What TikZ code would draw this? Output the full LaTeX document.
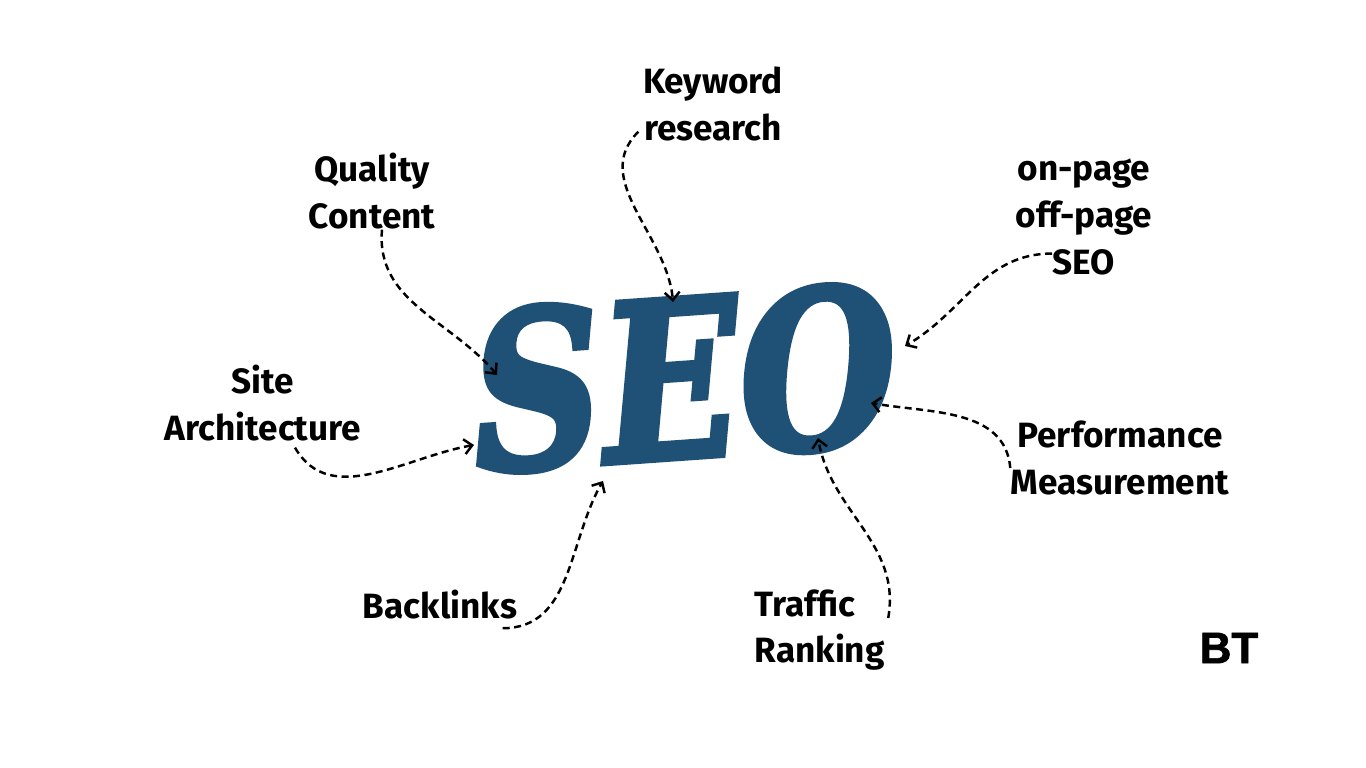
\documentclass[tikz,border=0pt]{standalone}
\usepackage{fontspec}
\setmainfont{Fira Sans}
\newfontfamily\seofont{DejaVu Serif}[BoldItalicFeatures={FakeBold=3}]
\newfontfamily\btfont{Liberation Sans}[BoldFeatures={FakeBold=1.5}]
\usetikzlibrary{arrows.meta}
\definecolor{seoblue}{RGB}{31,80,117}

\begin{document}
\begin{tikzpicture}[x=0.1mm,y=0.1mm,
		lbl/.style={inner sep=0pt,align=center,font=\fontsize{10}{13.3}\selectfont\bfseries},
		link/.style={dash pattern=on 0.7mm off 0.45mm,line width=0.7pt,-{Straight Barb[length=0.8mm,width=1.5mm]}}]
			\useasboundingbox[fill=white] (0,0) rectangle (1366,768);
			
			\node[text=seoblue,inner sep=0pt,rotate=4] (SEO) at (684,390) {\scalebox{0.83}[1]{\seofont\bfseries\itshape\fontsize{62}{62}\selectfont SEO}};
			
			\node[lbl] (KW) at (713,664) {Keyword\\research};
			\node[lbl] (QC) at (372,577) {Quality\\Content};
			\node[lbl] (ONP) at (1084,551) {on-page\\off-page\\SEO};
			\node[lbl] (SITE) at (263,365) {Site\\Architecture};
			\node[lbl] (PERF) at (1120,310) {Performance\\Measurement};
			\node[lbl] (BACK) at (440,163) {Backlinks};
			\node[lbl,align=left,anchor=west] (TRAF) at (754,138) {Traffic\\Ranking};
			\node[inner sep=0pt,font=\btfont\bfseries\fontsize{12.5}{15}\selectfont] (BT) at (1229,120) {BT};
			
			\coordinate (eKW) at (673,466);
			\coordinate (eQC) at (497,393);
			\coordinate (eONP) at (905,422);
			\coordinate (ePERF) at (871,365);
			\coordinate (eTRAF) at (818,330);
			\coordinate (eBACK) at (603,287);
			\coordinate (eSITE) at (474,323);
			
			\draw[link] ([xshift=-0.4mm,yshift=1mm]KW.south west) to[out=225,in=95] (eKW);
			\draw[link] ([xshift=1mm]QC.south) to[out=-95,in=130] (eQC);
			\draw[link] ([xshift=-3.2mm,yshift=2.2mm]ONP.south) to[out=180,in=30] (eONP);
			\draw[link] ([yshift=-1mm]PERF.west) to[out=95,in=-10] (ePERF);
			\draw[link] ([xshift=0.3mm,yshift=1.2mm]TRAF.east) to[out=80,in=-80] (eTRAF);
			\draw[link] ([xshift=-1.5mm,yshift=-0.8mm]BACK.south east) to[out=0,in=-120] (eBACK);
			\draw[link] ([xshift=3.2mm,yshift=-0.6mm]SITE.south) to[out=-60,in=190] (eSITE);
		\end{tikzpicture}
\end{document}
